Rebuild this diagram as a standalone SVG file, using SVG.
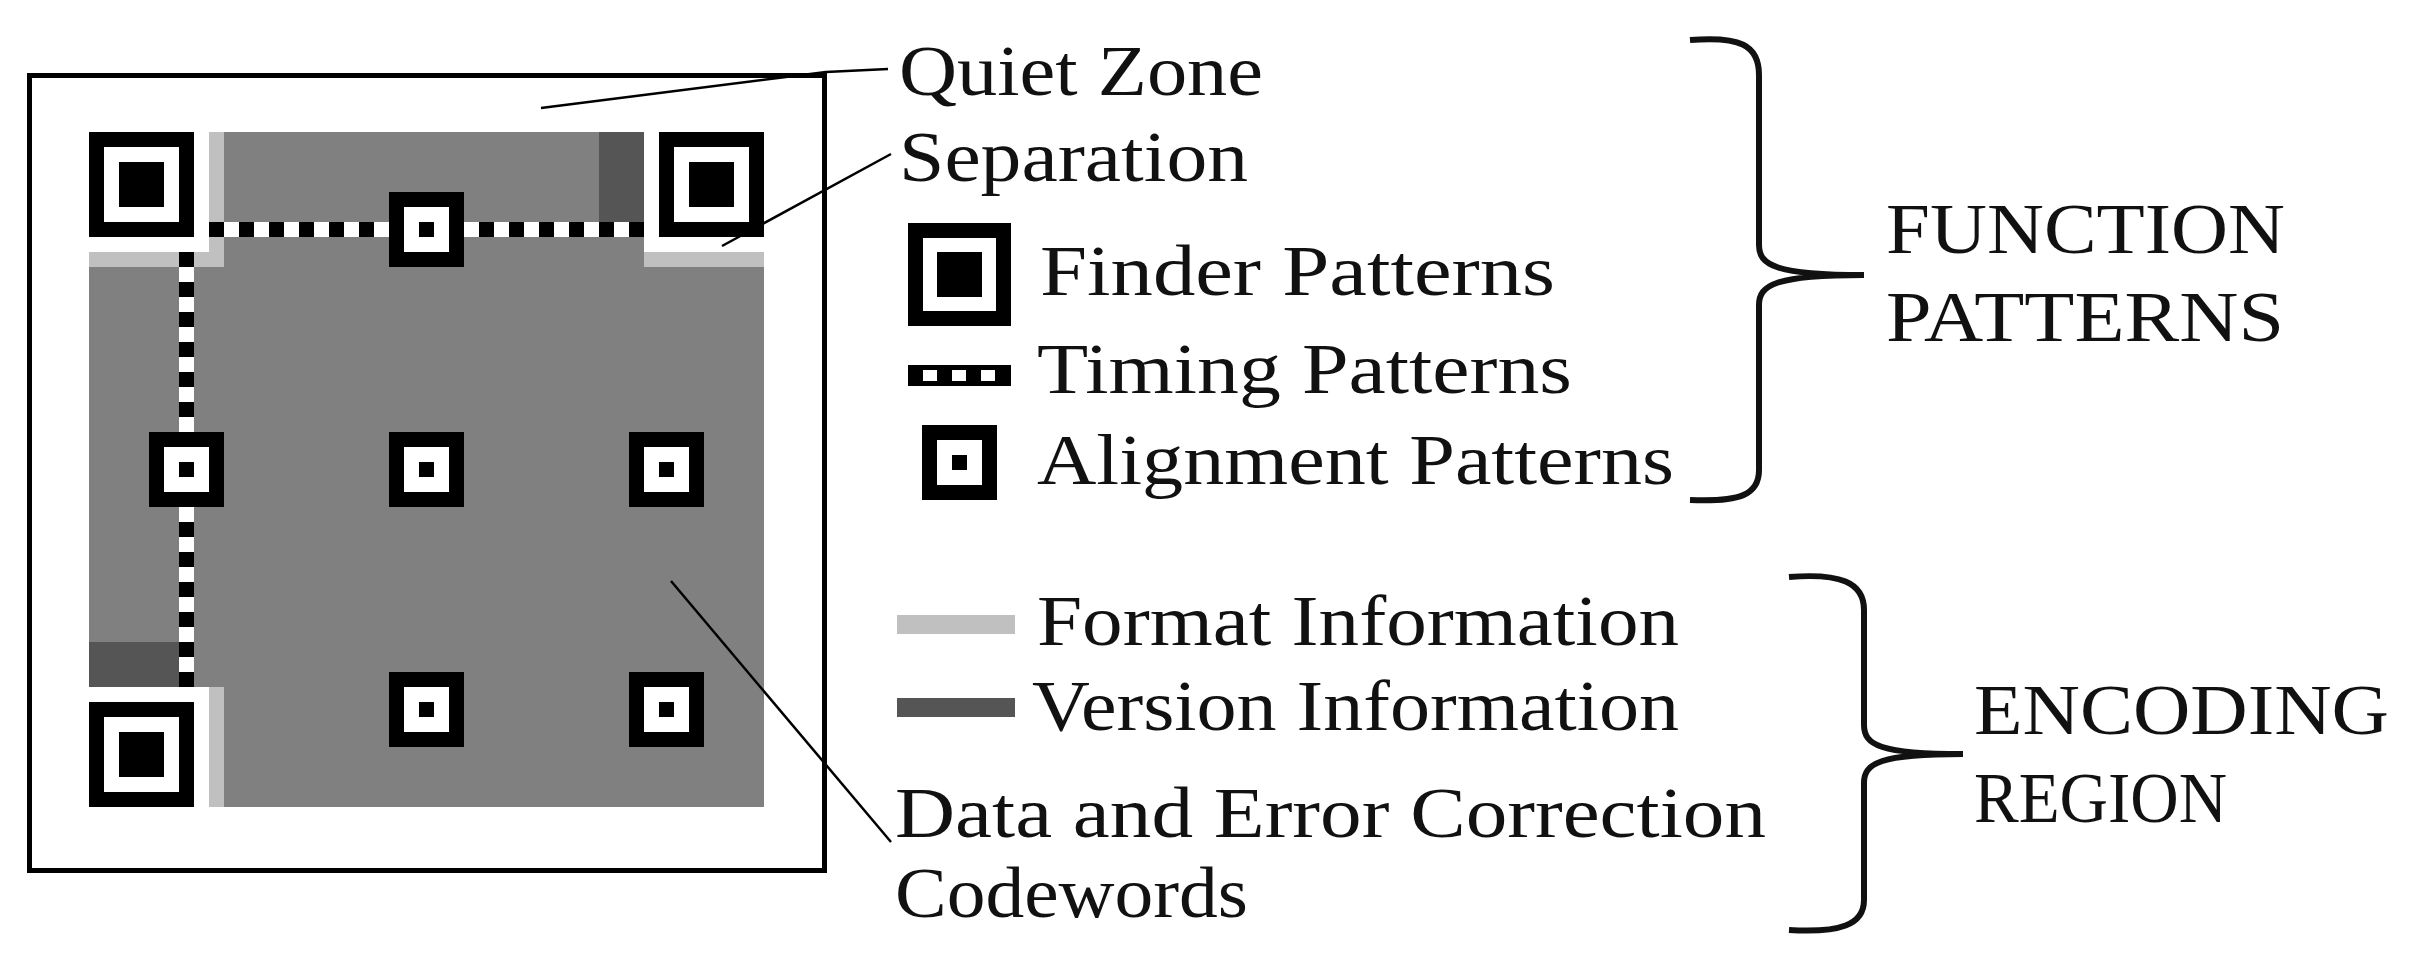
<svg xmlns="http://www.w3.org/2000/svg" width="2409" height="969" viewBox="0 0 2409 969">
<style>
text{font-family:"Liberation Serif","DejaVu Serif",serif;font-size:72px;fill:#111}
.ln{stroke:#000;stroke-width:2.5;fill:none}
.br{stroke:#111;stroke-width:6;fill:none}
.k{fill:#000}.w{fill:#fff}.g{fill:#808080}.f{fill:#c0c0c0}.v{fill:#555}
</style>
<defs>
<g id="fp"><rect class="k" width="7" height="7"/><rect class="w" x="1" y="1" width="5" height="5"/><rect class="k" x="2" y="2" width="3" height="3"/></g>
<g id="ap"><rect class="k" x="-2" y="-2" width="5" height="5"/><rect class="w" x="-1" y="-1" width="3" height="3"/><rect class="k" width="1" height="1"/></g>
<pattern id="th" width="2" height="1" patternUnits="userSpaceOnUse"><rect class="w" width="2" height="1"/><rect class="k" width="1" height="1"/></pattern>
<pattern id="tv" width="1" height="2" patternUnits="userSpaceOnUse"><rect class="w" width="1" height="2"/><rect class="k" width="1" height="1"/></pattern>
</defs>
<rect width="2409" height="969" fill="#fff"/>
<g id="symbol">
<rect x="29.5" y="75.5" width="795" height="795" fill="none" stroke="#000" stroke-width="5"/>
<g transform="translate(89,132) scale(15)" shape-rendering="crispEdges">
<rect class="g" width="45" height="45"/>
<rect class="w" width="8" height="8"/><rect class="w" x="37" width="8" height="8"/><rect class="w" y="37" width="8" height="8"/>
<rect class="f" x="0" y="8" width="9" height="1"/><rect class="f" x="8" y="0" width="1" height="9"/>
<rect class="f" x="37" y="8" width="8" height="1"/><rect class="f" x="8" y="37" width="1" height="8"/>
<rect class="v" x="34" y="0" width="3" height="6"/><rect class="v" x="0" y="34" width="6" height="3"/>
<rect x="8" y="6" width="29" height="1" fill="url(#th)"/>
<rect x="6" y="8" width="1" height="29" fill="url(#tv)"/>
<use href="#fp"/><use href="#fp" x="38"/><use href="#fp" y="38"/>
<use href="#ap" x="22" y="6"/><use href="#ap" x="6" y="22"/><use href="#ap" x="22" y="22"/><use href="#ap" x="38" y="22"/><use href="#ap" x="22" y="38"/><use href="#ap" x="38" y="38"/>
</g>
</g>
<g id="connectors">
<polyline class="ln" points="541,108 826,72 888,69"/>
<line class="ln" x1="722" y1="246" x2="891" y2="154"/>
<line class="ln" x1="671" y1="581" x2="891" y2="842"/>
<path class="br" d="M1690,40 C1740,36 1759,45 1759,75 L1759,245 C1759,265 1775,275 1864,275 C1775,275 1759,285 1759,305 L1759,470 C1759,495 1740,502 1690,500"/>
<path class="br" d="M1789,577 C1840,573 1864,582 1864,610 L1864,725 C1864,745 1880,754 1963,754 C1880,754 1864,763 1864,783 L1864,900 C1864,925 1840,933 1789,930"/>
</g>
<g id="legend" shape-rendering="crispEdges">
<g transform="translate(908,223) scale(14.7)"><use href="#fp"/></g>
<g id="timing-icon"><rect class="k" x="908" y="365" width="103" height="21"/><rect class="w" x="923" y="370" width="14" height="11"/><rect class="w" x="952" y="370" width="14" height="11"/><rect class="w" x="981" y="370" width="14" height="11"/></g>
<g transform="translate(952,455) scale(15)"><use href="#ap"/></g>
<rect class="f" x="897" y="615" width="118" height="19"/>
<rect class="v" x="897" y="698" width="118" height="19"/>
</g>
<g id="labels">
<text x="899" y="95" textLength="364" lengthAdjust="spacingAndGlyphs">Quiet Zone</text>
<text x="899" y="181" textLength="349" lengthAdjust="spacingAndGlyphs">Separation</text>
<text x="1040" y="295" textLength="515" lengthAdjust="spacingAndGlyphs">Finder Patterns</text>
<text x="1037" y="393" textLength="535" lengthAdjust="spacingAndGlyphs">Timing Patterns</text>
<text x="1037" y="484" textLength="637" lengthAdjust="spacingAndGlyphs">Alignment Patterns</text>
<text x="1037" y="645" textLength="642" lengthAdjust="spacingAndGlyphs">Format Information</text>
<text x="1032" y="730" textLength="647" lengthAdjust="spacingAndGlyphs">Version Information</text>
<text x="895" y="837" textLength="871" lengthAdjust="spacingAndGlyphs">Data and Error Correction</text>
<text x="895" y="917" textLength="353" lengthAdjust="spacingAndGlyphs">Codewords</text>
<text x="1886" y="253" textLength="399" lengthAdjust="spacingAndGlyphs">FUNCTION</text>
<text x="1886" y="341" textLength="398" lengthAdjust="spacingAndGlyphs">PATTERNS</text>
<text x="1974" y="734" textLength="415" lengthAdjust="spacingAndGlyphs">ENCODING</text>
<text x="1974" y="822" textLength="253" lengthAdjust="spacingAndGlyphs">REGION</text>
</g>
</svg>
